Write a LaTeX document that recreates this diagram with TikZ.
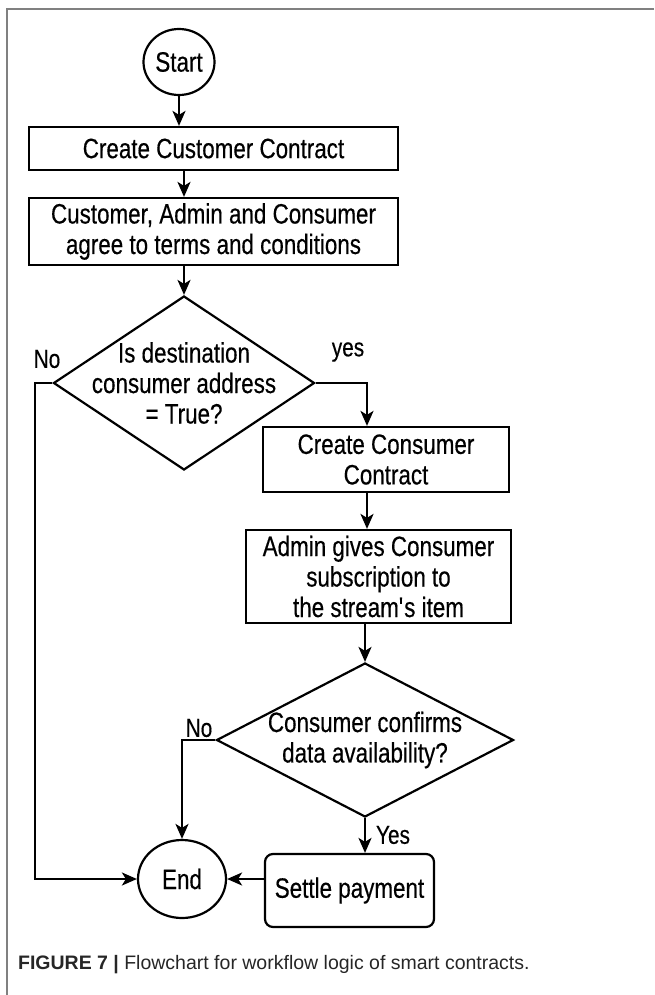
\documentclass[tikz,border=0pt]{standalone}
\usepackage{fontspec}
\setmainfont{Liberation Sans}[FakeStretch=0.8,FakeBold=0.4]
\newfontfamily\capfont{Liberation Sans}
\usetikzlibrary{shapes.geometric,arrows.meta}
\begin{document}
\begin{tikzpicture}[x=1pt,y=-1pt,
  line width=2.2pt,
  txt/.style={font=\fontsize{28}{30.5}\selectfont, align=center, inner sep=0pt},
  lbl/.style={font=\fontsize{26}{28}\selectfont, inner sep=0pt},
  boxn/.style={txt, draw, rectangle},
  term/.style={txt, draw, ellipse},
  dia/.style={draw, diamond, inner sep=0pt},
  arr/.style={-{Stealth[length=15pt,width=13pt,inset=4pt]}}]
\useasboundingbox (0,0) rectangle (654,995);
\draw[line width=1.5pt, gray] (654,9) -- (7,9) -- (7,995);

\node[term, minimum width=71pt, minimum height=66pt] (start) at (179,62) {Start};
\node[boxn, minimum width=369pt, minimum height=43pt] (b1) at (213.5,148.5) {Create Customer Contract};
\node[boxn, minimum width=369pt, minimum height=67pt] (b2) at (213.5,231.5) {Customer, Admin and Consumer\\agree to terms and conditions};
\node[dia, minimum width=261pt, minimum height=174pt] (d1) at (184,383) {};
\node[txt] (d1t) at (d1.center) {Is destination\\consumer address\\= True?};
\node[boxn, minimum width=246pt, minimum height=65pt] (b3) at (386,459.5) {Create Consumer\\Contract};
\node[boxn, minimum width=265pt, minimum height=93pt] (b4) at (378.5,576.5) {Admin gives Consumer\\subscription to\\the stream\textquotesingle s item};
\node[dia, minimum width=297pt, minimum height=154pt] (d2) at (365,740) {};
\node[txt] (d2t) at (d2.center) {Consumer confirms\\data availability?};
\node[term, minimum width=88pt, minimum height=78pt] (end) at (182,879) {End};
\node[boxn, rounded corners=8pt, minimum width=169pt, minimum height=73pt] (settle) at (349.5,890.5) {Settle payment};

\coordinate (lft) at (35,0);
\coordinate (col) at (367,0);

\draw[arr] (start.south) -- (start.south |- b1.north);
\draw[arr] (b1.south -| d1.north) -- (b2.north -| d1.north);
\draw[arr] (b2.south -| d1.north) -- (d1.north);
\draw[arr] (d1.east) -| (b3.north -| col);
\draw[arr] (b3.south -| col) -- (b4.north -| col);
\draw[arr] (b4.south -| d2.north) -- (d2.north);
\draw[arr] (d1.west) -- (d1.west -| lft) |- (end.west);
\draw[arr] (d2.west) -| (end.north);
\draw[arr] (d2.south) -- (d2.south |- settle.north);
\draw[arr] (settle.west |- end.east) -- (end.east);

\node[lbl] (no1) at (47,359) {No};
\node[lbl] (yes1) at (348,352) {yes};
\node[lbl] (no2) at (199,728) {No};
\node[lbl] (yes2) at (393,835) {Yes};

\node[anchor=west, inner sep=0pt, font=\capfont\fontsize{19.5}{22}\selectfont, text=black!85] (cap) at (17,965) {\textbf{FIGURE 7 |} Flowchart for workflow logic of smart contracts.};
\end{tikzpicture}
\end{document}
